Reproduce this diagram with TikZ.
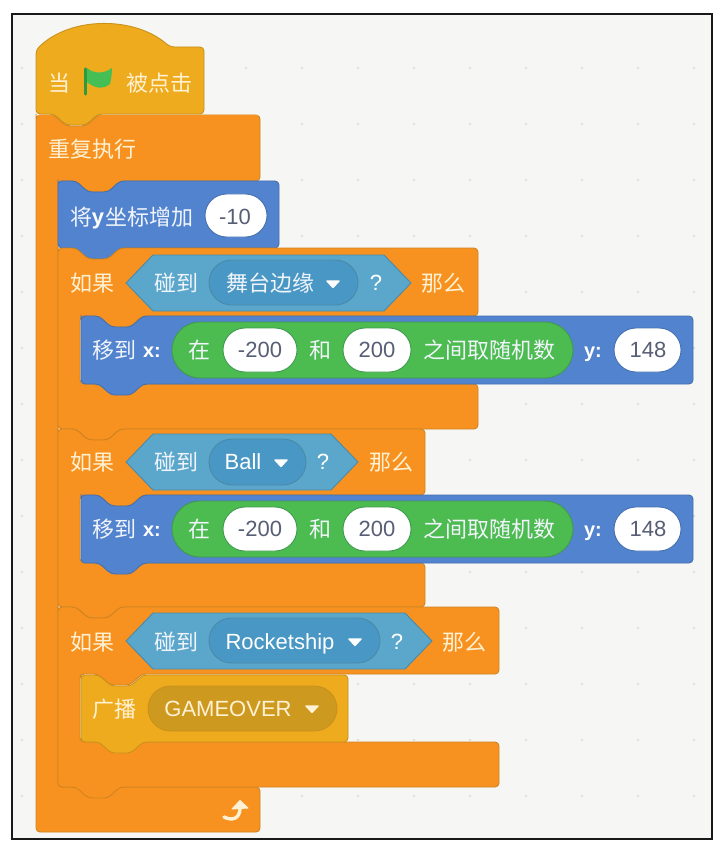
\documentclass[tikz,border=0pt]{standalone}
\usepackage{fontspec}
\setmainfont{Liberation Sans}
\newfontfamily\cjk{Noto Sans CJK SC}
\definecolor{pagebg}{HTML}{F6F6F5}
\definecolor{griddot}{HTML}{D6D6D4}
\definecolor{orangefill}{HTML}{F79220}
\definecolor{orangeline}{HTML}{CF8421}
\definecolor{yellowfill}{HTML}{EEAB1E}
\definecolor{yellowline}{HTML}{C9921C}
\definecolor{yellowpill}{HTML}{CE991F}
\definecolor{bluefill}{HTML}{5283CE}
\definecolor{blueline}{HTML}{4570B0}
\definecolor{hexfill}{HTML}{5BA7CC}
\definecolor{hexline}{HTML}{4A8AA8}
\definecolor{hexpill}{HTML}{4997C4}
\definecolor{greenfill}{HTML}{4CBB50}
\definecolor{greenline}{HTML}{3F9A50}
\definecolor{flagfill}{HTML}{45BF55}
\definecolor{flagline}{HTML}{2F9A3C}
\definecolor{creamtext}{HTML}{FFF2D4}
\definecolor{inktext}{HTML}{575E75}
\tikzset{
  x=1pt,y=-1pt,
  blockshape/.style={line width=0.9pt,rounded corners=4pt,line join=round},
  orangeblock/.style={blockshape,fill=orangefill,draw=orangeline},
  yellowblock/.style={blockshape,fill=yellowfill,draw=yellowline},
  blueblock/.style={blockshape,fill=bluefill,draw=blueline},
  hexshape/.style={fill=hexfill,draw=hexline,line width=0.9pt,line join=round},
  cn/.style={inner sep=0pt,anchor=base,yshift=-1pt,font=\fontsize{22}{24}\selectfont\cjk,text=creamtext},
  cnw/.style={cn,text=white!92!bluefill},
  lat/.style={inner sep=0pt,anchor=base,font=\fontsize{22}{24}\selectfont,text=white},
  latbold/.style={lat,font=\fontsize{20}{24}\selectfont\bfseries},
  dark/.style={lat,text=inktext},
  caret/.style={fill=white,draw=white,line width=1.4pt,line join=round},
}
% stack block: left, top, right, bottom, style
\newcommand{\stackblock}[5]{%
  \draw[#5] (#1,#2+3) -- (#1,#2) -- (#1+18,#2) -- (#1+30,#2+11) -- (#1+50,#2+11) -- (#1+62,#2)
    -- (#3,#2) -- (#3,#4) -- (#1+62,#4) -- (#1+50,#4+11) -- (#1+30,#4+11) -- (#1+18,#4)
    -- (#1,#4) -- cycle;}
% C block: left, top, right1, armtop, inner left, arm2top, right2, bottom
\newcommand{\cblock}[8]{%
  \draw[orangeblock] (#1,#2+3) -- (#1,#2) -- (#1+18,#2) -- (#1+30,#2+11) -- (#1+50,#2+11) -- (#1+62,#2)
    -- (#3,#2) -- (#3,#4) -- (#5+62,#4) -- (#5+50,#4+11) -- (#5+30,#4+11) -- (#5+18,#4)
    -- (#5,#4) -- (#5,#6) -- (#7,#6) -- (#7,#8) -- (#1+62,#8) -- (#1+50,#8+11) -- (#1+30,#8+11) -- (#1+18,#8)
    -- (#1,#8) -- cycle;}
% pill: x1,y1,x2,y2,radius,fill,draw
\newcommand{\pillshape}[7]{\draw[fill=#6,draw=#7,line width=0.9pt,rounded corners=#5pt] (#1,#2) rectangle (#3,#4);}
% hexagon: left tip, top, bottom, right tip
\newcommand{\hexagonshape}[4]{\draw[hexshape] (#1,{(#2+#3)/2}) -- (#1+27,#2) -- (#4-27,#2) -- (#4,{(#2+#3)/2}) -- (#4-27,#3) -- (#1+27,#3) -- cycle;}
% dropdown caret centre x, centre y
\newcommand{\dropcaret}[2]{\draw[caret] (#1-6,#2-3) -- (#1+6,#2-3) -- (#1,#2+3.5) -- cycle;}
% go-to block with the random reporter: top
\newcommand{\gotoblock}[2]{%
  \stackblock{81}{#1}{693}{#1+68}{blueblock}
  \pillshape{172}{#1+6}{573}{#1+62}{28}{greenfill}{greenline}
  \pillshape{223}{#1+12}{297}{#1+56}{22}{white}{greenline}
  \pillshape{343}{#1+12}{411}{#1+56}{22}{white}{greenline}
  \pillshape{614}{#1+12}{681}{#1+56}{22}{white}{blueline}
  \node[cnw] (goto#2) at (114,#1+41.5) {移到};
  \node[latbold] (x#2) at (152,#1+41.5) {x:};
  \node[cnw] (zai#2) at (199,#1+41.5) {在};
  \node[dark] (lo#2) at (260,#1+41.5) {-200};
  \node[cnw] (he#2) at (320,#1+41.5) {和};
  \node[dark] (hi#2) at (377,#1+41.5) {200};
  \node[cnw] (rand#2) at (489,#1+41.5) {之间取随机数};
  \node[latbold] (y#2) at (593,#1+41.5) {y:};
  \node[dark] (val#2) at (648,#1+41.5) {148};
}
\begin{document}
\begin{tikzpicture}
\useasboundingbox (0,0) rectangle (723,850);
\fill[white] (0,0) rectangle (723,850);
\draw[fill=pagebg,draw=black!90,line width=2pt] (11.5,14.5) rectangle (712,839);
\foreach \gx in {22,78,...,694}
  \foreach \gy in {68,124,...,796}
    \fill[griddot] (\gx,\gy) circle (1.2pt);

% forever: the closing arm has a flat lower edge
\draw[orangeblock] (36,118) -- (36,115) -- (54,115) -- (66,126) -- (86,126) -- (98,115)
    -- (260,115) -- (260,181) -- (120,181) -- (108,192) -- (88,192) -- (76,181)
    -- (58,181) -- (58,787) -- (260,787) -- (260,832) -- (36,832) -- cycle;

% hat
\draw[yellowblock] (36,50) .. controls (70,16) and (135,16) .. (170,47) -- (204,47) -- (204,114)
  -- (98,114) -- (86,125) -- (66,125) -- (54,114) -- (36,114) -- cycle;
\draw[orangefill,line width=1.4pt] (38,115.4) -- (53,115.4);
\draw[orangefill,line width=1.4pt] (99,115.4) -- (258,115.4);

% flag
\fill[flagfill] (87,68) .. controls (94,74) and (104,74) .. (112,68)
  .. controls (112,74) and (111,80) .. (110,84) .. controls (103,90) and (94,88) .. (87,82) -- cycle;
\draw[line width=3.2pt,draw=flagline,line cap=round] (85.5,69) -- (85.5,94);
\node[cn] (when) at (59,90.5) {当};
\node[cn] (clicked) at (159,90.5) {被点击};
\node[cn] (repeat) at (92,156.5) {重复执行};

% change y
\stackblock{58}{181}{279}{248}{blueblock}
\pillshape{205}{194}{267}{237}{21.5}{white}{blueline}
\node[cnw] (changeA) at (81,224.5) {将};
\node[lat,font=\fontsize{22}{24}\selectfont\bfseries] (changeB) at (98,224.5) {y};
\node[cnw] (changeC) at (149,224.5) {坐标增加};
\node[dark] (minusten) at (235,224.5) {-10};

% if 1
\cblock{58}{248}{478}{316}{80}{384}{478}{429}
\hexagonshape{126}{255}{311}{411}
\pillshape{209}{260}{358}{305}{22.5}{hexpill}{hexline}
\node[cn] (ifA) at (92,290.5) {如果};
\node[cnw] (touchA) at (176,290.5) {碰到};
\node[cnw] (edge) at (270,290.5) {舞台边缘};
\dropcaret{333}{284}
\node[lat] (qA) at (376,290.5) {?};
\node[cn] (thenA) at (443,290.5) {那么};
\gotoblock{316}{A}

% if 2
\cblock{58}{429}{425}{495}{80}{563}{425}{607}
\hexagonshape{126}{434}{490}{358}
\pillshape{209}{439}{306}{485}{23}{hexpill}{hexline}
\node[cn] (ifB) at (92,469.5) {如果};
\node[cnw] (touchB) at (176,469.5) {碰到};
\node[lat] (ball) at (243,469.5) {Ball};
\dropcaret{281}{463}
\node[lat] (qB) at (323,469.5) {?};
\node[cn] (thenB) at (391,469.5) {那么};
\gotoblock{495}{B}

% if 3
\cblock{58}{607}{499}{674}{80}{742}{499}{787}
\hexagonshape{126}{613}{669}{432}
\pillshape{209}{618}{380}{663}{22.5}{hexpill}{hexline}
\node[cn] (ifC) at (92,649.5) {如果};
\node[cnw] (touchC) at (176,649.5) {碰到};
\node[lat] (rocket) at (280,649.5) {Rocketship};
\dropcaret{355}{642}
\node[lat] (qC) at (397,649.5) {?};
\node[cn] (thenC) at (464,649.5) {那么};

% broadcast
\stackblock{81}{675}{348}{742}{yellowblock}
\pillshape{148}{686}{337}{731}{22.5}{yellowpill}{yellowline}
\node[cn] (cast) at (114,716.5) {广播};
\node[lat,text=creamtext] (gameover) at (228,716.5) {GAMEOVER};
\draw[caret,fill=creamtext,draw=creamtext] (306,706) -- (318,706) -- (312,712.5) -- cycle;

% loop arrow
\draw[creamtext,line width=3.4pt,line cap=round] (224,817) .. controls (232,821) and (240,819) .. (240,808);
\draw[fill=creamtext,draw=creamtext,line width=1pt,line join=round] (232,809) -- (240,800.5) -- (248,808) -- cycle;
\end{tikzpicture}
\end{document}
